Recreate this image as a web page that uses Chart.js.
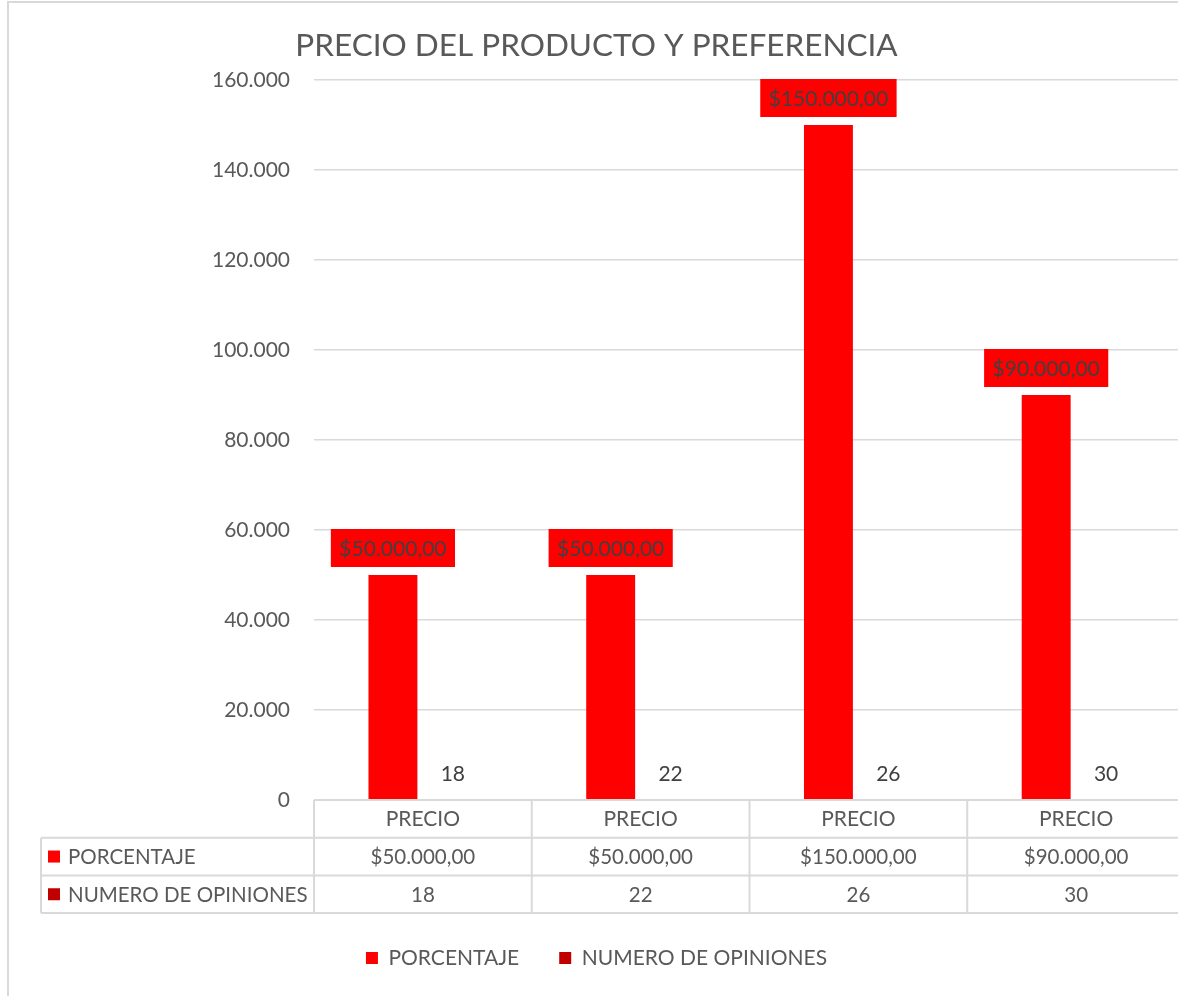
<!DOCTYPE html>
<html lang="es">
<head>
<meta charset="utf-8">
<title>Precio del producto y preferencia</title>
<script src="https://cdn.jsdelivr.net/npm/chart.js@4.4.1/dist/chart.umd.min.js"></script>
<style>
  html, body { margin: 0; padding: 0; background: #fff; overflow: hidden; }
  .marco { position: absolute; left: 7px; top: 1px; width: 1300px; height: 1100px;
           border-left: 2px solid #d9d9d9; border-top: 2px solid #d9d9d9; }
  .lienzo { position: absolute; left: 0; top: 0; }
</style>
</head>
<body>
<div class="marco"></div>
<canvas id="grafico" class="lienzo" width="1200" height="996"></canvas>
<script>
// datos del grafico
const categorias = ['PRECIO', 'PRECIO', 'PRECIO', 'PRECIO'];
const porcentaje = [50000, 50000, 150000, 90000];
const opiniones = [18, 22, 26, 30];
const nombresSeries = ['PORCENTAJE', 'NUMERO DE OPINIONES'];
const coloresSeries = ['#ff0000', '#c00000'];
const ejeMin = 0, ejeMax = 160000, ejePaso = 20000;

const FUENTE = 'Lato';
const GRIS = '#595959';
const LINEA = '#d9d9d9';

function miles(v) {
  return String(Math.round(v)).replace(/\B(?=(\d{3})+(?!\d))/g, '.');
}
function dinero(v) {
  return '$' + miles(v) + ',00';
}
const formatos = [dinero, v => String(v)];

// etiquetas de datos encima de cada barra
const etiquetasDatos = {
  id: 'etiquetasDatos',
  afterDatasetsDraw(chart) {
    const ctx = chart.ctx;
    ctx.save();
    ctx.font = '21px ' + FUENTE;
    ctx.textAlign = 'center';
    ctx.textBaseline = 'middle';
    chart.data.datasets.forEach((ds, d) => {
      const meta = chart.getDatasetMeta(d);
      meta.data.forEach((bar, i) => {
        const txt = formatos[d](ds.data[i]);
        const h = 38;
        const cy = bar.y - 8 - h / 2;
        if (d === 0) {
          const w = ctx.measureText(txt).width + 17;
          ctx.fillStyle = coloresSeries[0];
          ctx.fillRect(bar.x - w / 2, cy - h / 2, w, h);
        }
        ctx.fillStyle = '#404040';
        ctx.fillText(txt, bar.x, cy + 1);
      });
    });
    ctx.restore();
  }
};

// tabla de datos bajo el eje
const tablaDatos = {
  id: 'tablaDatos',
  afterDraw(chart) {
    const ctx = chart.ctx;
    const area = chart.chartArea;
    const x = chart.scales.x;
    const n = categorias.length;
    const anchoCat = (area.right - area.left) / n;
    const filaH = 37.7;
    const top = area.bottom;
    const izq = 41;
    ctx.save();
    ctx.strokeStyle = LINEA;
    ctx.lineWidth = 2;
    ctx.beginPath();
    ctx.moveTo(area.left, top); ctx.lineTo(area.right, top);
    for (let r = 1; r <= 3; r++) {
      ctx.moveTo(izq, top + r * filaH); ctx.lineTo(area.right, top + r * filaH);
    }
    ctx.moveTo(izq, top + filaH); ctx.lineTo(izq, top + 3 * filaH);
    for (let c = 0; c <= n; c++) {
      const px = area.left + c * anchoCat;
      ctx.moveTo(px, top); ctx.lineTo(px, top + 3 * filaH);
    }
    ctx.stroke();

    ctx.font = '20.5px ' + FUENTE;
    ctx.textBaseline = 'middle';
    const series = [porcentaje, opiniones];
    series.forEach((valores, s) => {
      const cy = top + (s + 1.5) * filaH;
      ctx.fillStyle = coloresSeries[s];
      ctx.fillRect(48, cy - 6, 12, 12);
      ctx.fillStyle = GRIS;
      ctx.textAlign = 'left';
      ctx.fillText(nombresSeries[s], 68, cy + 1);
      ctx.textAlign = 'center';
      valores.forEach((v, i) => {
        ctx.fillText(formatos[s](v), x.getPixelForValue(i), cy + 1);
      });
    });
    ctx.restore();
  }
};

new Chart(document.getElementById('grafico'), {
  type: 'bar',
  data: {
    labels: categorias,
    datasets: [
      { label: nombresSeries[0], data: porcentaje, backgroundColor: coloresSeries[0], borderWidth: 0,
        barPercentage: 0.817, categoryPercentage: 0.55 },
      { label: nombresSeries[1], data: opiniones, backgroundColor: coloresSeries[1], borderWidth: 0,
        barPercentage: 0.817, categoryPercentage: 0.55 }
    ]
  },
  options: {
    responsive: false,
    animation: false,
    layout: { padding: { left: 8, right: 15, top: 0, bottom: 17.5 } },
    plugins: {
      title: {
        display: true,
        text: 'PRECIO DEL PRODUCTO Y PREFERENCIA',
        color: GRIS,
        font: { family: FUENTE, size: 31.5, weight: 'normal' },
        padding: { top: 27, bottom: 15.2 }
      },
      legend: {
        position: 'bottom',
        labels: {
          color: GRIS,
          font: { family: FUENTE, size: 21 },
          boxWidth: 12,
          boxHeight: 12,
          padding: 40
        }
      },
      tooltip: { enabled: false }
    },
    scales: {
      x: {
        grid: { display: false },
        border: { display: false },
        ticks: { color: GRIS, font: { family: FUENTE, size: 21 }, padding: -1 },
        afterFit(scale) { scale.height = 107.5; }
      },
      y: {
        min: ejeMin,
        max: ejeMax,
        border: { display: false },
        grid: { color: LINEA, lineWidth: 1.5, drawTicks: false },
        ticks: {
          stepSize: ejePaso,
          color: GRIS,
          font: { family: FUENTE, size: 21 },
          padding: 24,
          callback: v => miles(v)
        },
        afterFit(scale) { scale.width = 306; }
      }
    }
  },
  plugins: [etiquetasDatos, tablaDatos]
});
</script>
</body>
</html>
